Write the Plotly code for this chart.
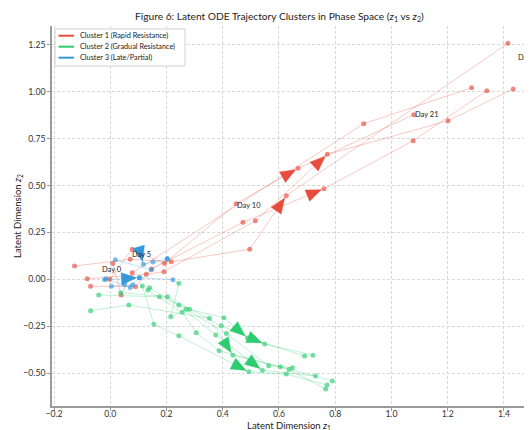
import math
import plotly.graph_objects as go

# ---------------- data ----------------
cluster_names = ["Cluster 1 (Rapid Resistance)",
                 "Cluster 2 (Gradual Resistance)",
                 "Cluster 3 (Late/Partial)"]
cluster_rgb = ["231,76,60", "46,204,113", "52,152,219"]

# Cluster 1 trajectories (z1, z2), one list per patient
c1_z1 = [
    [-0.002, 0.078, 0.193, 0.448, 0.668, 1.079],
    [-0.127, 0.071, 0.217, 0.496, 0.626, 1.414],
    [-0.082, 0.128, 0.191, 0.516, 0.772, 1.201, 1.433],
    [-0.070, 0.090, 0.147, 0.472, 0.760, 1.077, 1.339],
    [0.009, 0.039, 0.078, 0.901, 1.285],
]
c1_z2 = [
    [0.000, 0.160, 0.085, 0.403, 0.592, 0.877],
    [0.071, 0.107, 0.094, 0.160, 0.446, 1.258],
    [0.003, 0.027, 0.041, 0.312, 0.666, 0.845, 1.014],
    [-0.037, -0.039, 0.055, 0.304, 0.483, 0.739, 1.005],
    [0.085, -0.084, 0.035, 0.829, 1.021],
]
c1_arrow_to = [4, 4, 4, 4, None]

# Cluster 2 trajectories
c2_z1 = [
    [-0.070, 0.066, 0.353, 0.436, 0.605, 0.790],
    [-0.041, 0.175, 0.282, 0.404, 0.488, 0.691],
    [0.037, 0.203, 0.395, 0.549, 0.721],
    [0.114, 0.155, 0.244, 0.493, 0.626, 0.771],
    [0.134, 0.256, 0.306, 0.387, 0.636, 0.766],
    [0.140, 0.244, 0.375, 0.541, 0.730],
    [0.244, 0.215, 0.270, 0.413, 0.563, 0.648],
]
c2_z2 = [
    [-0.167, -0.137, -0.208, -0.404, -0.466, -0.542],
    [-0.084, -0.093, -0.160, -0.205, -0.312, -0.409],
    [-0.071, -0.093, -0.247, -0.345, -0.404],
    [-0.036, -0.240, -0.301, -0.493, -0.505, -0.563],
    [-0.057, -0.176, -0.285, -0.381, -0.480, -0.585],
    [-0.045, -0.137, -0.297, -0.485, -0.515],
    [-0.021, -0.199, -0.160, -0.288, -0.461, -0.471],
]
c2_arrow_to = [3, 4, 3, 3, None, 3, None]

# Cluster 3 trajectories
c3_z1 = [
    [-0.020, 0.104, 0.223],
    [0.105, 0.118, 0.152, 0.203],
    [0.018, 0.146, 0.203],
    [0.004, 0.051, 0.080],
    [-0.015, 0.071, 0.104],
]
c3_z2 = [
    [-0.002, 0.009, -0.002],
    [0.150, 0.080, 0.092, 0.110],
    [0.104, 0.051, 0.110],
    [-0.037, -0.029, -0.029],
    [0.003, -0.043, 0.009],
]
c3_arrow_to = [1, 1, None, None, None]

# Day labels along the cluster-1 mean path
day_label_text = ["Day 0", "Day 5", "Day 10", "Day 21", "Day 28"]
day_label_z1 = [-0.034, 0.075, 0.448, 1.079, 1.446]
day_label_z2 = [0.050, 0.130, 0.395, 0.877, 1.180]

x_ticks = [-0.2, 0.0, 0.2, 0.4, 0.6, 0.8, 1.0, 1.2, 1.4]
y_ticks = [-0.50, -0.25, 0.00, 0.25, 0.50, 0.75, 1.00, 1.25]

title_text = ("Figure 6: Latent ODE Trajectory Clusters in Phase Space "
              "(<i>z</i><sub>1</sub> vs <i>z</i><sub>2</sub>)")
x_title = "Latent Dimension <i>z</i><sub>1</sub>"
y_title = "Latent Dimension <i>z</i><sub>2</sub>"

# ---------------- layout geometry ----------------
# the page body adds an 8px offset; layout is expressed in window pixels
OFF = 8
W, H = 532, 430
PLOT_L, PLOT_R, PLOT_T, PLOT_B = 52, 532, 26, 406   # window pixels
M = dict(l=PLOT_L - OFF, r=W - (PLOT_R - OFF), t=PLOT_T - OFF, b=H - (PLOT_B - OFF))
PW, PH = PLOT_R - PLOT_L, PLOT_B - PLOT_T
x_range = [-0.2071, 1.4996]
y_range = [-0.675, 1.350]
px_x = PW / (x_range[1] - x_range[0])
px_y = PH / (y_range[1] - y_range[0])


def fx(p):   # window x pixel -> paper fraction
    return (p - PLOT_L) / PW


def fy(p):   # window y pixel -> paper fraction
    return (PLOT_B - p) / PH


FONT = "Lato"
TXT = "#222222"
fig = go.Figure()

clusters = [
    (c1_z1, c1_z2, c1_arrow_to),
    (c2_z1, c2_z2, c2_arrow_to),
    (c3_z1, c3_z2, c3_arrow_to),
]

for (zs1, zs2, _), rgb in zip(clusters, cluster_rgb):
    for xs, ys in zip(zs1, zs2):
        fig.add_trace(go.Scatter(
            x=xs, y=ys, mode="lines+markers",
            line=dict(color=f"rgba({rgb},0.3)", width=1),
            marker=dict(color=f"rgba({rgb},0.65)", size=5),
            showlegend=False, hoverinfo="skip"))

# arrow heads (filled triangles, built from the trajectory segments)
HEAD_L, HEAD_W, STANDOFF = 15.0, 12.0, 3.0
for (zs1, zs2, arrow_to), rgb in zip(clusters, cluster_rgb):
    hx, hy = [], []
    for xs, ys, k in zip(zs1, zs2, arrow_to):
        if k is None:
            continue
        dx = (xs[k] - xs[k - 1]) * px_x
        dy = (ys[k] - ys[k - 1]) * px_y   # pixel units, y up
        n = math.hypot(dx, dy)
        ux, uy = dx / n, dy / n
        tip = (xs[k] - STANDOFF * ux / px_x, ys[k] - STANDOFF * uy / px_y)
        base = (tip[0] - HEAD_L * ux / px_x, tip[1] - HEAD_L * uy / px_y)
        qx, qy = -uy, ux
        c1 = (base[0] + HEAD_W / 2 * qx / px_x, base[1] + HEAD_W / 2 * qy / px_y)
        c2 = (base[0] - HEAD_W / 2 * qx / px_x, base[1] - HEAD_W / 2 * qy / px_y)
        hx += [tip[0], c1[0], c2[0], tip[0], None]
        hy += [tip[1], c1[1], c2[1], tip[1], None]
    fig.add_trace(go.Scatter(
        x=hx, y=hy, mode="lines", fill="toself",
        fillcolor=f"rgb({rgb})", line=dict(color=f"rgb({rgb})", width=0.5),
        showlegend=False, hoverinfo="skip"))

annotations = []
for t, x, y in zip(day_label_text, day_label_z1, day_label_z2):
    annotations.append(dict(
        x=x, y=y, xref="x", yref="y", text=t, showarrow=False,
        xanchor="left", yanchor="middle", xshift=-1,
        font=dict(family=FONT, size=7.5, color=TXT)))

# axis titles
annotations.append(dict(
    x=fx(289), y=fy(425.5), xref="paper", yref="paper", text=x_title,
    showarrow=False, xanchor="center", yanchor="middle",
    font=dict(family=FONT, size=9.5, color=TXT)))
annotations.append(dict(
    x=fx(18), y=fy(216), xref="paper", yref="paper", text=y_title, textangle=-90,
    showarrow=False, xanchor="center", yanchor="middle",
    font=dict(family=FONT, size=9.5, color=TXT)))

# legend (custom box, matplotlib style)
shapes = []
LEG_X0, LEG_X1 = 55, 185
LEG_Y0, LEG_Y1 = 29, 66
shapes.append(dict(type="rect", xref="paper", yref="paper",
                   x0=fx(LEG_X0), x1=fx(LEG_X1), y0=fy(LEG_Y1), y1=fy(LEG_Y0),
                   line=dict(color="#d0d0d0", width=1),
                   fillcolor="rgba(255,255,255,0.85)", layer="above"))
for i, (name, rgb) in enumerate(zip(cluster_names, cluster_rgb)):
    yy = 35.7 + i * 11.0
    shapes.append(dict(type="line", xref="paper", yref="paper",
                       x0=fx(58.5), x1=fx(74), y0=fy(yy), y1=fy(yy),
                       line=dict(color=f"rgb({rgb})", width=2), layer="above"))
    annotations.append(dict(
        x=fx(78), y=fy(yy), xref="paper", yref="paper", text=name,
        showarrow=False, xanchor="left", yanchor="middle",
        font=dict(family=FONT, size=7.3, color=TXT)))

fig.update_layout(
    width=W, height=H, margin=M, showlegend=False,
    paper_bgcolor="white", plot_bgcolor="white",
    font=dict(family=FONT, size=9, color="#333333"),
    title=dict(text=title_text, x=fx(135), xref="paper", xanchor="left",
               y=1 - (16 - OFF) / H, yref="container", yanchor="middle",
               font=dict(family=FONT, size=10.2, color=TXT)),
    annotations=annotations, shapes=shapes,
)
axis_common = dict(
    showgrid=True, gridcolor="#d9d9d9", gridwidth=0.8, griddash="3px,2px",
    zeroline=False, showline=True, linecolor="#9a9a9a", linewidth=1.5,
    ticks="outside", ticklen=3, tickcolor="#9a9a9a", automargin=False,
    tickfont=dict(family=FONT, size=8.7, color="#333333"))
fig.update_xaxes(range=x_range, tickvals=x_ticks, tickformat=".1f",
                 ticklabelstandoff=-4, **axis_common)
fig.update_yaxes(range=y_range, tickvals=y_ticks, tickformat=".2f",
                 **axis_common)

fig.write_html("out.html")
